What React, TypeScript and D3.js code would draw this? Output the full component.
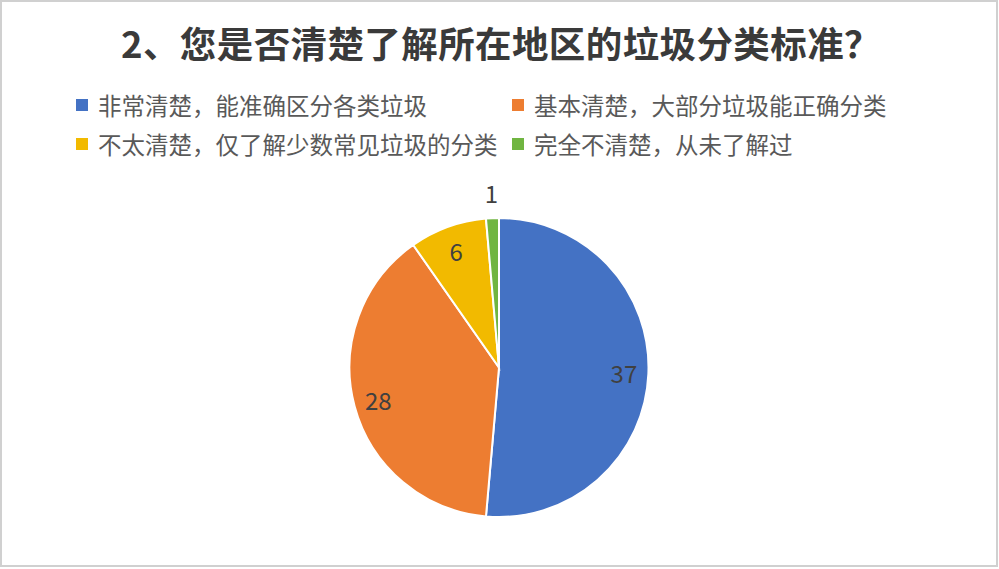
import React from 'react';
import * as d3 from 'd3';

const categories = [
  '非常清楚，能准确区分各类垃圾',
  '基本清楚，大部分垃圾能正确分类',
  '不太清楚，仅了解少数常见垃圾的分类',
  '完全不清楚，从未了解过',
];
const counts = [37, 28, 6, 1];
const colors = ['#4472C4', '#ED7D31', '#F2BA00', '#70B541'];
const title = '2、您是否清楚了解所在地区的垃圾分类标准？';

interface Slice {
  name: string;
  value: number;
  color: string;
}

const W = 999;
const H = 569;

export default function App() {
  const ref = React.useRef<SVGSVGElement>(null);

  React.useEffect(() => {
    document.body.style.margin = '0';
    if (!ref.current) return;
    const svg = d3.select(ref.current);
    svg.selectAll('*').remove();

    const font = '"Noto Sans CJK SC", "Noto Sans", sans-serif';

    svg.append('rect')
      .attr('x', 1).attr('y', 1)
      .attr('width', W - 3).attr('height', H - 4)
      .attr('fill', '#fff')
      .attr('stroke', '#D0D0D0')
      .attr('stroke-width', 2);

    svg.append('text')
      .attr('x', 121)
      .attr('y', 42)
      .attr('text-anchor', 'start')
      .attr('dominant-baseline', 'central')
      .style('font-family', font)
      .style('font-weight', 700)
      .style('font-size', '36.5px')
      .style('letter-spacing', '0.4px')
      .attr('fill', '#3A3A3A')
      .text(title);

    const data: Slice[] = categories.map((name, i) => ({ name, value: counts[i], color: colors[i] }));

    // legend, two columns
    const legend = svg.append('g').style('font-family', font);
    const colX = [76, 512];
    const rowY = [105, 144];
    data.forEach((d, i) => {
      const x = colX[i % 2];
      const y = rowY[Math.floor(i / 2)];
      legend.append('rect')
        .attr('x', x).attr('y', y - 6)
        .attr('width', 12).attr('height', 12)
        .attr('fill', d.color);
      legend.append('text')
        .attr('x', x + 22)
        .attr('y', y)
        .attr('dominant-baseline', 'central')
        .style('font-size', '23.5px')
        .attr('fill', '#595959')
        .text(d.name);
    });

    const cx = 499;
    const cy = 367.5;
    const radius = 149.5;

    const pie = d3.pie<Slice>().value(d => d.value).sort(null);
    const arcs = pie(data);
    const arc = d3.arc<d3.PieArcDatum<Slice>>().innerRadius(0).outerRadius(radius);
    const labelArc = d3.arc<d3.PieArcDatum<Slice>>().innerRadius(125).outerRadius(125);
    const outerLabelArc = d3.arc<d3.PieArcDatum<Slice>>().innerRadius(175).outerRadius(175);

    const g = svg.append('g').attr('transform', `translate(${cx},${cy})`);

    g.selectAll('path')
      .data(arcs)
      .join('path')
      .attr('d', arc)
      .attr('fill', d => d.data.color)
      .attr('stroke', '#fff')
      .attr('stroke-width', 2);

    g.selectAll('text')
      .data(arcs)
      .join('text')
      .attr('transform', d => {
        const small = d.endAngle - d.startAngle < 0.2;
        const [x, y] = small ? outerLabelArc.centroid(d) : labelArc.centroid(d);
        return `translate(${x},${y})`;
      })
      .attr('text-anchor', 'middle')
      .attr('dominant-baseline', 'central')
      .style('font-family', font)
      .style('font-size', '24px')
      .attr('fill', '#404040')
      .text(d => d.data.value);
  }, []);

  return (
    <div>
      <svg ref={ref} width={W} height={H} style={{ display: 'block' }} />
    </div>
  );
}
